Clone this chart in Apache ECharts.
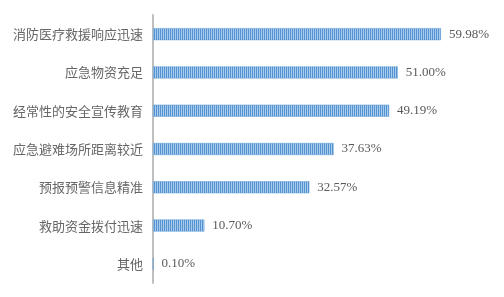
<!DOCTYPE html>
<html><head><meta charset="utf-8">
<script src="https://cdn.jsdelivr.net/npm/echarts@6/dist/echarts.min.js"></script>
<style>html,body{margin:0;padding:0;background:#fff}#c{width:504px;height:297px}</style>
</head><body><div id="c"></div>
<script>
const categories = ['消防医疗救援响应迅速','应急物资充足','经常性的安全宣传教育','应急避难场所距离较近','预报预警信息精准','救助资金拨付迅速','其他'];
const values = [59.98, 51.00, 49.19, 37.63, 32.57, 10.70, 0.10];

const cv = document.createElement('canvas');
cv.width = 2; cv.height = 4;
const ctx = cv.getContext('2d');
ctx.fillStyle = '#5592d2'; ctx.fillRect(0,0,1,4);
ctx.fillStyle = '#a9cbec'; ctx.fillRect(1,0,1,4);

const chart = echarts.init(document.getElementById('c'));
chart.setOption({
  animation: false,
  grid: {left: 153, top: 15, bottom: 14, width: 336, containLabel: false},
  xAxis: {type: 'value', min: 0, max: 70, show: false},
  yAxis: {
    type: 'category', data: categories, inverse: true,
    axisLine: {show: true, lineStyle: {color: '#bfbfbf', width: 2}},
    axisTick: {show: false},
    axisLabel: {color: '#666666', fontSize: 13, margin: 10, fontFamily: 'Noto Sans CJK SC'}
  },
  series: [{
    type: 'bar', data: values, barWidth: 12,
    itemStyle: {color: {image: cv, repeat: 'repeat'}, borderColor: '#5b9bd5', borderWidth: 0.5},
    label: {show: true, position: 'right', distance: 8, color: '#595959', fontSize: 13,
      fontFamily: 'Liberation Serif',
      formatter: p => p.value.toFixed(2) + '%'}
  }]
});
</script></body></html>
